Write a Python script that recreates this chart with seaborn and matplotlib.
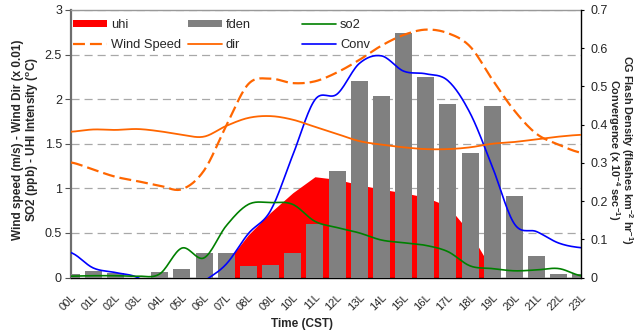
import numpy as np
import pandas as pd
import matplotlib
matplotlib.use("Agg")
import matplotlib.pyplot as plt
import matplotlib.transforms as mtransforms
import seaborn as sns

# hourly values
hours = ['00L', '01L', '02L', '03L', '04L', '05L', '06L', '07L', '08L', '09L', '10L', '11L',
         '12L', '13L', '14L', '15L', '16L', '17L', '18L', '19L', '20L', '21L', '22L', '23L']
# UHI intensity (left axis), only 07L..19L present
uhi = [np.nan] * 7 + [0.16, 0.48, 0.73, 0.95, 1.13, 1.10, 1.04, 0.99, 0.95, 0.90, 0.80, 0.50, 0.08] + [np.nan] * 4
# CG flash density (right axis)
fden = [0.010, 0.016, 0.013, 0.0, 0.014, 0.021, 0.063, 0.063, 0.029, 0.034, 0.065, 0.141,
        0.279, 0.514, 0.475, 0.641, 0.525, 0.454, 0.326, 0.449, 0.212, 0.057, 0.010, 0.008]
so2 = [0.015, 0.02, 0.02, 0.015, 0.04, 0.33, 0.22, 0.58, 0.82, 0.84, 0.82, 0.63,
       0.56, 0.50, 0.42, 0.39, 0.36, 0.29, 0.13, 0.10, 0.075, 0.085, 0.10, 0.02]
wind = [1.29, 1.21, 1.13, 1.08, 1.03, 0.99, 1.20, 1.70, 2.17, 2.23, 2.18, 2.20,
        2.30, 2.44, 2.60, 2.72, 2.78, 2.74, 2.59, 2.22, 1.87, 1.61, 1.49, 1.40]
wdir = [1.635, 1.66, 1.655, 1.665, 1.64, 1.60, 1.58, 1.70, 1.79, 1.81, 1.77, 1.69,
        1.61, 1.53, 1.49, 1.46, 1.44, 1.44, 1.46, 1.50, 1.52, 1.55, 1.58, 1.60]
# convergence (right axis)
conv = [0.065, 0.025, 0.013, 0.0, -0.04, -0.05, -0.01, 0.035, 0.115, 0.175, 0.32, 0.465,
        0.48, 0.56, 0.58, 0.54, 0.533, 0.515, 0.43, 0.29, 0.14, 0.12, 0.09, 0.078]


def smooth(vals, n=16):
    # excel-like smoothed line (catmull-rom as bezier) through the points
    y = np.asarray(vals, float)
    p = np.concatenate([[y[0]], y, [y[-1]]])
    xs, ys = [], []
    t = np.linspace(0, 1, n, endpoint=False)
    for i in range(len(y) - 1):
        p0, p1, p2, p3 = p[i], p[i + 1], p[i + 2], p[i + 3]
        c1 = p1 + (p2 - p0) / 6
        c2 = p2 - (p3 - p1) / 6
        ys.append((1 - t) ** 3 * p1 + 3 * (1 - t) ** 2 * t * c1 + 3 * (1 - t) * t ** 2 * c2 + t ** 3 * p2)
        xs.append(i + t)
    xs.append([len(y) - 1])
    ys.append([y[-1]])
    return np.concatenate(xs), np.concatenate(ys)


sns.set_style("white")
plt.rcParams['font.family'] = ['Liberation Sans', 'DejaVu Sans']
plt.rcParams['mathtext.default'] = 'regular'
plt.rcParams['lines.scale_dashes'] = False

RED, GRAY, GREEN, ORANGE, BLUE = '#FF0000', '#808080', '#008000', '#FF6600', '#0000FF'

fig = plt.figure(figsize=(6.37, 3.33), dpi=100)
ax = fig.add_axes([71 / 637, 1 - 277.5 / 333, 510 / 637, 267.5 / 333])
ax2 = ax.twinx()
ax3 = ax.twinx()

x = np.arange(len(hours))

# red uhi area (bottom layer)
u = np.array(uhi)
ok = ~np.isnan(u)
h_uhi = ax.fill_between(x[ok], 0, u[ok], color=RED, lw=0)

# bars on right axis
df = pd.DataFrame({'h': x, 'fden': fden})
sns.barplot(data=df, x='h', y='fden', ax=ax2, color=GRAY, saturation=1, width=0.77, linewidth=0)
h_fden = ax2.containers[0]
cx, cy = smooth(conv)
h_conv, = ax2.plot(cx, cy, color=BLUE, lw=1.2)

# left-axis lines on top
sx, sy = smooth(so2)
h_so2, = ax3.plot(sx, sy, color=GREEN, lw=1.2)
wx, wy = smooth(wind)
h_wind, = ax3.plot(wx, wy, color=ORANGE, lw=1.6, linestyle=(0, (8.6, 3.6)))
dx, dy = smooth(wdir)
h_dir, = ax3.plot(dx, dy, color=ORANGE, lw=1.3)

# axes setup
ax.set_xlim(0, 23)
ax.set_ylim(0, 3)
ax2.set_ylim(0, 0.7)
ax3.set_ylim(0, 3)

ax.set_yticks([0, 0.5, 1, 1.5, 2, 2.5, 3])
ax.set_yticklabels(['0', '0.5', '1', '1.5', '2', '2.5', '3'], fontsize=9)
ax2.set_yticks(np.arange(0, 0.71, 0.1))
ax2.set_yticklabels(['0', '0.1', '0.2', '0.3', '0.4', '0.5', '0.6', '0.7'], fontsize=9)
ax3.set_yticks([])
ax3.set_ylabel('')

ax.set_xticks(x)
ax.set_xticklabels(hours, rotation=45, ha='right', rotation_mode='anchor', fontsize=8)
shift = mtransforms.ScaledTranslation(-4 / 100, 0, fig.dpi_scale_trans)
for lab in ax.get_xticklabels():
    lab.set_transform(lab.get_transform() + shift)

ax.tick_params(axis='x', direction='out', length=3, width=0.8, pad=7.5, color='black')
ax.tick_params(axis='y', direction='out', length=4, width=0.8, pad=2.5, color='#555555', left=True)
ax2.tick_params(axis='y', direction='out', length=2.5, width=0.8, pad=4, color='black', right=True)

ax.yaxis.grid(True, color='#A8A8A8', lw=0.9, linestyle=(0, (5.8, 3.6)))
ax.set_axisbelow(True)

for a in (ax, ax2, ax3):
    for s in a.spines.values():
        s.set_visible(False)
ax.spines['left'].set_visible(True)
ax.spines['left'].set_color('#6e6e6e')
ax.spines['left'].set_linewidth(1.6)
ax.spines['bottom'].set_visible(True)
ax.spines['bottom'].set_color('black')
ax.spines['bottom'].set_linewidth(1.0)
ax.spines['top'].set_visible(True)
ax.spines['top'].set_color('#999999')
ax.spines['top'].set_linewidth(1.0)
ax2.spines['right'].set_visible(True)
ax2.spines['right'].set_color('black')
ax2.spines['right'].set_linewidth(1.0)

ax2.set_xlabel('')
ax.set_xlabel('Time (CST)', fontsize=8.5, fontweight='bold')
ax.xaxis.set_label_coords(0.453, -0.15)
ax.set_ylabel('Wind speed (m/s) - Wind Dir (x 0.01)\nSO2 (ppb) - UHI Intensity ($^{o}$C)',
              fontsize=8.5, fontweight='bold', linespacing=1.05)
ax.yaxis.set_label_coords(-0.059, 0.514)
ax2.set_ylabel('CG Flash Density (flashes km$^{-2}$ hr$^{-1}$)\nConvergence (x 10$^{-4}$ sec$^{-1}$)',
               fontsize=7.8, fontweight='bold', rotation=270, linespacing=0.8)
ax2.yaxis.set_label_coords(1.106, 0.477)

# legend: three columns placed like the original
cols = [([h_uhi, h_wind], ['uhi', 'Wind Speed'], 73),
        ([h_fden, h_dir], ['fden', 'dir'], 188),
        ([h_so2, h_conv], ['so2', 'Conv'], 302)]
for i, (handles, labels, px) in enumerate(cols):
    leg = ax3.legend(handles, labels, loc='upper left', bbox_to_anchor=(px / 637, 1 - 19 / 333),
                     bbox_transform=fig.transFigure, frameon=False, fontsize=9.3, borderpad=0,
                     borderaxespad=0, handlelength=2.64, handletextpad=0.3, labelspacing=0.62,
                     handleheight=0.55)
    if i < len(cols) - 1:
        ax3.add_artist(leg)

fig.savefig('out.png', dpi=100)
